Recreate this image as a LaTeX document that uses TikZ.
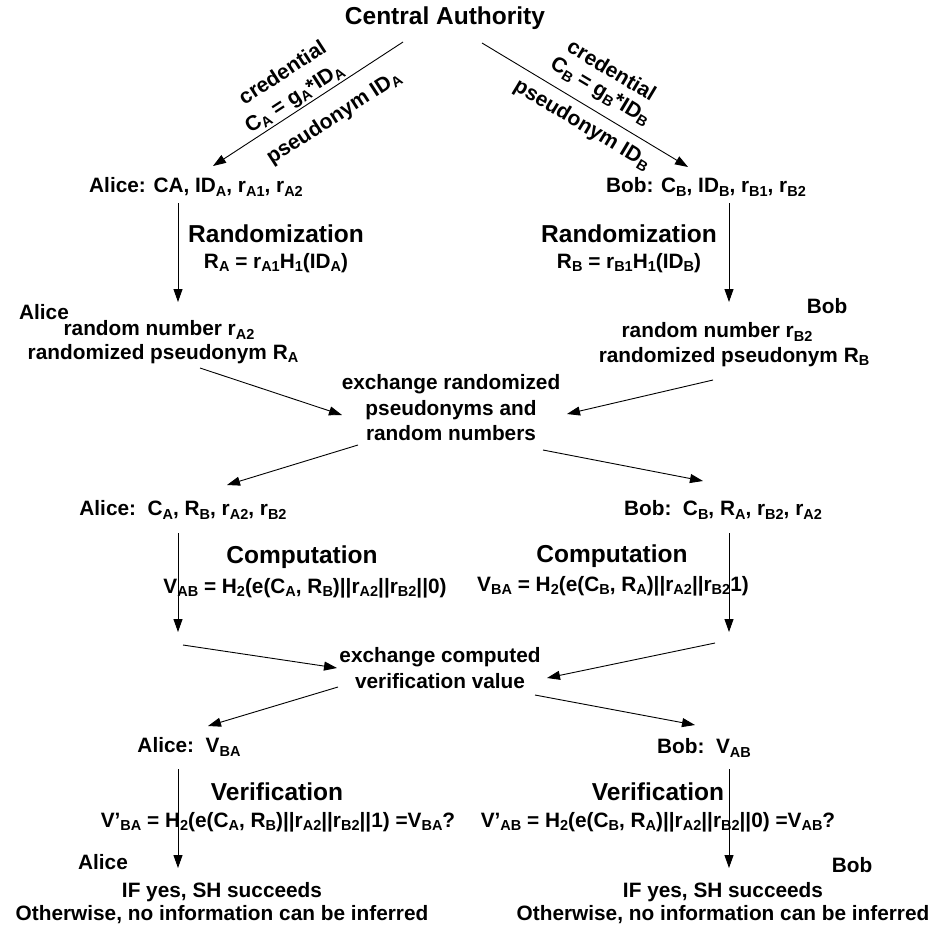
\documentclass[tikz,border=0pt]{standalone}
\usepackage{fontspec}
\setmainfont{Liberation Sans}
\usetikzlibrary{arrows.meta}
% lowered small text for indices
\newcommand\sbs[1]{\raisebox{-0.3ex}{\fontsize{14.5}{14.5}\selectfont #1}}
\begin{document}
\begin{tikzpicture}[x=1pt,y=-1pt,
  every node/.style={inner sep=0pt, font=\bfseries\fontsize{20.8}{25.5}\selectfont},
  big/.style={font=\bfseries\fontsize{24.5}{28}\selectfont},
  lbl/.style={font=\bfseries\fontsize{21}{25}\selectfont},
  flow/.style={-{Triangle[length=13pt,width=9pt]}, line width=0.9pt},
]
\useasboundingbox (0,0) rectangle (937,930);

% ---- central authority and issued credentials
\node[big] (ca) at (445,18) {Central Authority};
\node[lbl, rotate=33] (credA) at (282,72) {credential};
\node[lbl, rotate=33] (cA) at (295,99) {C\sbs{A} = g\sbs{A}*ID\sbs{A}};
\node[lbl, rotate=33] (pA) at (334,118) {pseudonym ID\sbs{A}};
\node[lbl, rotate=-31] (credB) at (612,70) {credential};
\node[lbl, rotate=-31] (cB) at (600,92) {C\sbs{B} = g\sbs{B}*ID\sbs{B}};
\node[lbl, rotate=-31] (pB) at (582,125) {pseudonym ID\sbs{B}};

\coordinate (caL) at (403,42);
\coordinate (caR) at (482,43);
\coordinate (inA1) at (213,166);
\coordinate (inB1) at (688,167);
\draw[flow] (caL) -- (inA1);
\draw[flow] (caR) -- (inB1);

% ---- first states
\node (alice1) at (196,187) {Alice: CA, ID\sbs{A}, r\sbs{A1}, r\sbs{A2}};
\node (bob1) at (706,187) {Bob: C\sbs{B}, ID\sbs{B}, r\sbs{B1}, r\sbs{B2}};

% ---- randomization
\coordinate (a1s) at (178,203);
\coordinate (a1e) at (178,302);
\coordinate (b1s) at (729,203);
\coordinate (b1e) at (729,302);
\draw[flow] (a1s) -- (a1e);
\draw[flow] (b1s) -- (b1e);
\node[big] (randA) at (276,234) {Randomization};
\node (randAf) at (276,263) {R\sbs{A} = r\sbs{A1}H\sbs{1}(ID\sbs{A})};
\node[big] (randB) at (629,234) {Randomization};
\node (randBf) at (629,263) {R\sbs{B} = r\sbs{B1}H\sbs{1}(ID\sbs{B})};

\node (aliceN) at (44,312) {Alice};
\node (aliceR1) at (159,330) {random number r\sbs{A2}};
\node (aliceR2) at (163,354) {randomized pseudonym R\sbs{A}};
\node (bobN) at (827,306) {Bob};
\node (bobR1) at (717,332) {random number r\sbs{B2}};
\node (bobR2) at (734,357) {randomized pseudonym R\sbs{B}};

% ---- first exchange
\node[align=center] (ex1) at (451,408) {exchange randomized\\pseudonyms and\\random numbers};
\coordinate (ex1a) at (200,368);
\coordinate (ex1ai) at (342,415);
\coordinate (ex1b) at (713,380);
\coordinate (ex1bi) at (567,414);
\coordinate (ex1ao) at (358,445);
\coordinate (ex1at) at (227,485);
\coordinate (ex1bo) at (543,450);
\coordinate (ex1bt) at (703,481);
\draw[flow] (ex1a) -- (ex1ai);
\draw[flow] (ex1b) -- (ex1bi);
\draw[flow] (ex1ao) -- (ex1at);
\draw[flow] (ex1bo) -- (ex1bt);

% ---- second states and computation
\node (alice2) at (183,510) {Alice:\ \ C\sbs{A}, R\sbs{B}, r\sbs{A2}, r\sbs{B2}};
\node (bob2) at (723,510) {Bob:\ \ C\sbs{B}, R\sbs{A}, r\sbs{B2}, r\sbs{A2}};
\coordinate (a2s) at (178,533);
\coordinate (a2e) at (178,632);
\coordinate (b2s) at (729,533);
\coordinate (b2e) at (729,632);
\draw[flow] (a2s) -- (a2e);
\draw[flow] (b2s) -- (b2e);
\node[big] (compA) at (302,557) {Computation};
\node (compAf) at (305,588) {V\sbs{AB} = H\sbs{2}(e(C\sbs{A}, R\sbs{B})||r\sbs{A2}||r\sbs{B2}||0)};
\node[big] (compB) at (612,556) {Computation};
\node (compBf) at (613,586) {V\sbs{BA} = H\sbs{2}(e(C\sbs{B}, R\sbs{A})||r\sbs{A2}||r\sbs{B2}1)};

% ---- second exchange
\node[align=center] (ex2) at (440,668) {exchange computed\\verification value};
\coordinate (ex2a) at (183,645);
\coordinate (ex2ai) at (337,668);
\coordinate (ex2b) at (715,643);
\coordinate (ex2bi) at (547,678);
\coordinate (ex2ao) at (338,687);
\coordinate (ex2at) at (208,726);
\coordinate (ex2bo) at (535,695);
\coordinate (ex2bt) at (695,725);
\draw[flow] (ex2a) -- (ex2ai);
\draw[flow] (ex2b) -- (ex2bi);
\draw[flow] (ex2ao) -- (ex2at);
\draw[flow] (ex2bo) -- (ex2bt);

% ---- verification
\node (alice3) at (189,747) {Alice:\ \ V\sbs{BA}};
\node (bob3) at (704,748) {Bob:\ \ V\sbs{AB}};
\coordinate (a3s) at (178,769);
\coordinate (a3e) at (178,868);
\coordinate (b3s) at (729,769);
\coordinate (b3e) at (729,868);
\draw[flow] (a3s) -- (a3e);
\draw[flow] (b3s) -- (b3e);
\node[big] (verA) at (277,792) {Verification};
\node (verAf) at (278,822) {V’\sbs{BA} = H\sbs{2}(e(C\sbs{A}, R\sbs{B})||r\sbs{A2}||r\sbs{B2}||1) =V\sbs{BA}?};
\node[big] (verB) at (658,792) {Verification};
\node (verBf) at (658,822) {V’\sbs{AB} = H\sbs{2}(e(C\sbs{B}, R\sbs{A})||r\sbs{A2}||r\sbs{B2}||0) =V\sbs{AB}?};

\node (aliceN3) at (103,862) {Alice};
\node (bobN3) at (852,865) {Bob};
\node (resA1) at (222,892) {IF yes, SH succeeds};
\node (resA2) at (222,915) {Otherwise, no information can be inferred};
\node (resB1) at (723,892) {IF yes, SH succeeds};
\node (resB2) at (723,915) {Otherwise, no information can be inferred};
\end{tikzpicture}
\end{document}
